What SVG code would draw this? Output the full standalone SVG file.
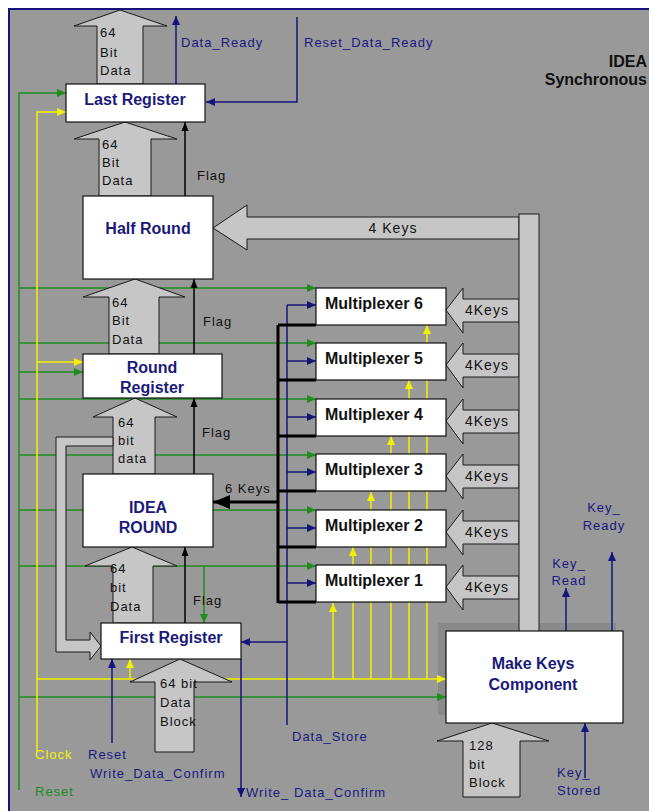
<svg xmlns="http://www.w3.org/2000/svg" width="649" height="811" viewBox="0 0 649 811">
<style>
.bg{fill:#999999}
.box{fill:#ffffff;stroke:#111111;stroke-width:1.2}
.blk{fill:#c6c6c6;stroke:#1a1a1a;stroke-width:1}
.ln{fill:none;stroke-width:1.5}
.g{stroke:#1e8c1e}
.y{stroke:#f2f200}
.n{stroke:#14147a}
.k{stroke:#000000}
.bus{fill:none;stroke:#000000;stroke-width:3}
.t{font-family:"Liberation Sans",Arial,sans-serif;font-size:13px;letter-spacing:1px;fill:#111111}
.tn{fill:#1a1a80}
.tg{fill:#1e8c1e}
.ty{fill:#f2f200}
.bt{font-family:"Liberation Sans",Arial,sans-serif;font-size:16px;font-weight:bold;fill:#1a1a7a;text-anchor:middle}
.mt{font-family:"Liberation Sans",Arial,sans-serif;font-size:16px;font-weight:bold;fill:#111111}
.k14{font-family:"Liberation Sans",Arial,sans-serif;font-size:14px;letter-spacing:1px;fill:#111111}
</style>
<defs>
<marker id="ag" markerWidth="10" markerHeight="10" refX="9" refY="5" orient="auto" markerUnits="userSpaceOnUse"><path d="M0,1 L9,5 L0,9 z" fill="#1e8c1e"/></marker>
<marker id="ay" markerWidth="10" markerHeight="10" refX="9" refY="5" orient="auto" markerUnits="userSpaceOnUse"><path d="M0,1 L9,5 L0,9 z" fill="#f2f200"/></marker>
<marker id="an" markerWidth="10" markerHeight="10" refX="9" refY="5" orient="auto" markerUnits="userSpaceOnUse"><path d="M0,1 L9,5 L0,9 z" fill="#14147a"/></marker>
<marker id="ak" markerWidth="10" markerHeight="10" refX="9" refY="5" orient="auto" markerUnits="userSpaceOnUse"><path d="M0,1.5 L9,5 L0,8.5 z" fill="#000000"/></marker>
<marker id="akb" markerWidth="18" markerHeight="16" refX="17" refY="8" orient="auto" markerUnits="userSpaceOnUse"><path d="M0,1 L17,8 L0,15 z" fill="#000000"/></marker>
</defs>

<rect x="0" y="0" width="649" height="811" fill="#ffffff"/>
<rect class="bg" x="9" y="9" width="640" height="802"/>
<path d="M9,811 L9,9 L649,9" fill="none" stroke="#14147a" stroke-width="2"/>

<!-- shadow of Make Keys -->
<rect x="438" y="623" width="178" height="92" fill="#8a8a8a"/>

<g id="connectors">
  <!-- green reset network -->
  <g id="reset-lines">
    <path class="ln g" d="M19,790 L19,93 L66,93" marker-end="url(#ag)"/>
    <path class="ln g" d="M19,288 L316,288" marker-end="url(#ag)"/>
    <path class="ln g" d="M19,343 L316,343" marker-end="url(#ag)"/>
    <path class="ln g" d="M19,372 L83,372" marker-end="url(#ag)"/>
    <path class="ln g" d="M19,399 L316,399" marker-end="url(#ag)"/>
    <path class="ln g" d="M19,455 L316,455" marker-end="url(#ag)"/>
    <path class="ln g" d="M19,510 L316,510" marker-end="url(#ag)"/>
    <path class="ln g" d="M19,566 L316,566" marker-end="url(#ag)"/>
    <path class="ln g" d="M204,566 L204,623" marker-end="url(#ag)"/>
    <path class="ln g" d="M19,697 L446,697" marker-end="url(#ag)"/>
  </g>
  <!-- yellow clock network -->
  <g id="clock-lines">
    <path class="ln y" d="M37,752 L37,112 L66,112" marker-end="url(#ay)"/>
    <path class="ln y" d="M37,362 L83,362" marker-end="url(#ay)"/>
    <path class="ln y" d="M37,679 L446,679" marker-end="url(#ay)"/>
    <path class="ln y" d="M130,679 L130,659" marker-end="url(#ay)"/>
    <path class="ln y" d="M333,679 L333,603" marker-end="url(#ay)"/>
    <path class="ln y" d="M353,679 L353,547" marker-end="url(#ay)"/>
    <path class="ln y" d="M371,679 L371,492" marker-end="url(#ay)"/>
    <path class="ln y" d="M391,679 L391,436" marker-end="url(#ay)"/>
    <path class="ln y" d="M409,679 L409,380" marker-end="url(#ay)"/>
    <path class="ln y" d="M427,679 L427,325" marker-end="url(#ay)"/>
  </g>
  <!-- navy control lines -->
  <g id="control-lines">
    <path class="ln n" d="M176,84 L176,16" marker-end="url(#an)"/>
    <path class="ln n" d="M297,17 L297,102 L206,102" marker-end="url(#an)"/>
    <path class="ln n" d="M287,725 L287,305"/>
    <path class="ln n" d="M287,305 L316,305" marker-end="url(#an)"/>
    <path class="ln n" d="M287,361 L316,361" marker-end="url(#an)"/>
    <path class="ln n" d="M287,417 L316,417" marker-end="url(#an)"/>
    <path class="ln n" d="M287,472 L316,472" marker-end="url(#an)"/>
    <path class="ln n" d="M287,528 L316,528" marker-end="url(#an)"/>
    <path class="ln n" d="M287,583 L316,583" marker-end="url(#an)"/>
    <path class="ln n" d="M287,642 L241,642" marker-end="url(#an)"/>
    <path class="ln n" d="M241,659 L241,797" marker-end="url(#an)"/>
    <path class="ln n" d="M112,743 L112,659" marker-end="url(#an)"/>
    <path class="ln n" d="M566,631 L566,588" marker-end="url(#an)"/>
    <path class="ln n" d="M612,631 L612,552" marker-end="url(#an)"/>
    <path class="ln n" d="M585,778 L585,723" marker-end="url(#an)"/>
  </g>
  <!-- black flags and key bus -->
  <g id="flag-lines">
    <path class="ln k" d="M185,196 L185,122" marker-end="url(#ak)"/>
    <path class="ln k" d="M194,354 L194,279" marker-end="url(#ak)"/>
    <path class="ln k" d="M194,474 L194,398" marker-end="url(#ak)"/>
    <path class="ln k" d="M185,623 L185,547" marker-end="url(#ak)"/>
    <path class="bus" d="M278,325 L278,603"/>
    <path class="bus" d="M278,325 L316,325 M278,380 L316,380 M278,436 L316,436 M278,491 L316,491 M278,547 L316,547 M278,602 L316,602"/>
    <path class="bus" d="M278,502 L213,502" marker-end="url(#akb)"/>
  </g>

  <!-- gray block data arrows -->
  <g id="data-buses">
    <polygon class="blk" points="97,84 97,26 74,26 120,10 167,26 143,26 143,84"/>
    <polygon class="blk" points="99,196 99,139 74,139 125,122 177,139 151,139 151,196"/>
    <polygon class="blk" points="109,354 109,297 83,297 135,279 185,297 159,297 159,354"/>
    <polygon class="blk" points="113,474 113,417 93,417 135,398 177,417 155,417 155,474"/>
    <polygon class="blk" points="113,623 113,566 85,566 132,547 177,566 153,566 153,623"/>
    <polygon class="blk" points="155,752 155,682 130,682 180,659 232,682 194,682 194,752"/>
    <polygon class="blk" points="463,797 463,741 437,741 492,723 549,741 520,741 520,797"/>
    <polygon class="blk" points="113,437 56,437 56,652 90,652 90,660 101,646 90,632 90,640 66,640 66,446 113,446"/>
    <polygon class="blk" points="519,217 247,217 247,205 213,228 247,250 247,239 519,239"/>
    <polygon class="blk" points="519,299 463,299 463,288 446,310 463,333 463,322 519,322"/>
    <polygon class="blk" points="519,354 463,354 463,343 446,365 463,388 463,377 519,377"/>
    <polygon class="blk" points="519,410 463,410 463,399 446,421 463,444 463,433 519,433"/>
    <polygon class="blk" points="519,465 463,465 463,454 446,476 463,499 463,488 519,488"/>
    <polygon class="blk" points="519,521 463,521 463,510 446,532 463,555 463,544 519,544"/>
    <polygon class="blk" points="519,576 463,576 463,565 446,587 463,610 463,599 519,599"/>
    <rect class="blk" x="519" y="214" width="20" height="418"/>
  </g>

  <!-- connector labels -->
  <g id="labels">
    <text class="t" x="100" y="37">64</text>
    <text class="t" x="100" y="57">Bit</text>
    <text class="t" x="100" y="75">Data</text>
    <text class="t" x="102" y="149">64</text>
    <text class="t" x="102" y="167">Bit</text>
    <text class="t" x="102" y="185">Data</text>
    <text class="t" x="112" y="307">64</text>
    <text class="t" x="112" y="325">Bit</text>
    <text class="t" x="112" y="344">Data</text>
    <text class="t" x="118" y="427">64</text>
    <text class="t" x="118" y="445">bit</text>
    <text class="t" x="118" y="463">data</text>
    <text class="t" x="110" y="573">64</text>
    <text class="t" x="110" y="592">bit</text>
    <text class="t" x="110" y="611">Data</text>
    <text class="t" x="160" y="688">64 bit</text>
    <text class="t" x="160" y="707">Data</text>
    <text class="t" x="160" y="726">Block</text>
    <text class="t" x="469" y="750">128</text>
    <text class="t" x="469" y="769">bit</text>
    <text class="t" x="469" y="787">Block</text>
    <text class="t" x="197" y="180">Flag</text>
    <text class="t" x="203" y="326">Flag</text>
    <text class="t" x="202" y="437">Flag</text>
    <text class="t" x="193" y="605">Flag</text>
    <text class="t" x="225" y="493">6 Keys</text>
    <text class="k14" x="393" y="233" text-anchor="middle">4 Keys</text>
    <text class="k14" x="465" y="315">4Keys</text>
    <text class="k14" x="465" y="370">4Keys</text>
    <text class="k14" x="465" y="426">4Keys</text>
    <text class="k14" x="465" y="481">4Keys</text>
    <text class="k14" x="465" y="537">4Keys</text>
    <text class="k14" x="465" y="592">4Keys</text>
    <text class="t tn" x="181" y="47">Data_Ready</text>
    <text class="t tn" x="304" y="47">Reset_Data_Ready</text>
    <text class="t ty" x="35" y="759">Clock</text>
    <text class="t tg" x="35" y="796">Reset</text>
    <text class="t tn" x="88" y="759">Reset</text>
    <text class="t tn" x="90" y="778">Write_Data_Confirm</text>
    <text class="t tn" x="246" y="797">Write_ Data_Confirm</text>
    <text class="t tn" x="292" y="741">Data_Store</text>
    <text class="t tn" x="604" y="512" text-anchor="middle">Key_</text>
    <text class="t tn" x="604" y="530" text-anchor="middle">Ready</text>
    <text class="t tn" x="569" y="568" text-anchor="middle">Key_</text>
    <text class="t tn" x="569" y="585" text-anchor="middle">Read</text>
    <text class="t tn" x="557" y="777">Key_</text>
    <text class="t tn" x="557" y="795">Stored</text>
  </g>
</g>

<g id="last-register">
  <rect class="box" x="66" y="84" width="139" height="38"/>
  <text class="bt" x="135" y="105">Last Register</text>
</g>
<g id="half-round">
  <rect class="box" x="83" y="196" width="130" height="83"/>
  <text class="bt" x="148" y="234">Half Round</text>
</g>
<g id="round-register">
  <rect class="box" x="83" y="354" width="139" height="44"/>
  <text class="bt" x="152" y="373">Round</text>
  <text class="bt" x="152" y="393">Register</text>
</g>
<g id="idea-round">
  <rect class="box" x="83" y="474" width="130" height="73"/>
  <text class="bt" x="148" y="513">IDEA</text>
  <text class="bt" x="148" y="533">ROUND</text>
</g>
<g id="first-register">
  <rect class="box" x="101" y="623" width="140" height="36"/>
  <text class="bt" x="171" y="643">First Register</text>
</g>
<g id="mux6">
  <rect class="box" x="316" y="288" width="130" height="37"/>
  <text class="mt" x="325" y="309">Multiplexer 6</text>
</g>
<g id="mux5">
  <rect class="box" x="316" y="343" width="130" height="37"/>
  <text class="mt" x="325" y="364">Multiplexer 5</text>
</g>
<g id="mux4">
  <rect class="box" x="316" y="399" width="130" height="37"/>
  <text class="mt" x="325" y="420">Multiplexer 4</text>
</g>
<g id="mux3">
  <rect class="box" x="316" y="454" width="130" height="37"/>
  <text class="mt" x="325" y="475">Multiplexer 3</text>
</g>
<g id="mux2">
  <rect class="box" x="316" y="510" width="130" height="37"/>
  <text class="mt" x="325" y="531">Multiplexer 2</text>
</g>
<g id="mux1">
  <rect class="box" x="316" y="565" width="130" height="37"/>
  <text class="mt" x="325" y="586">Multiplexer 1</text>
</g>
<g id="make-keys">
  <rect class="box" x="446" y="631" width="177" height="92"/>
  <text class="bt" x="533" y="669">Make Keys</text>
  <text class="bt" x="533" y="690">Component</text>
</g>
<g id="title">
  <text class="mt" x="647" y="67" text-anchor="end" font-size="15">IDEA</text>
  <text class="mt" x="647" y="85" text-anchor="end" font-size="15">Synchronous</text>
</g>
</svg>
